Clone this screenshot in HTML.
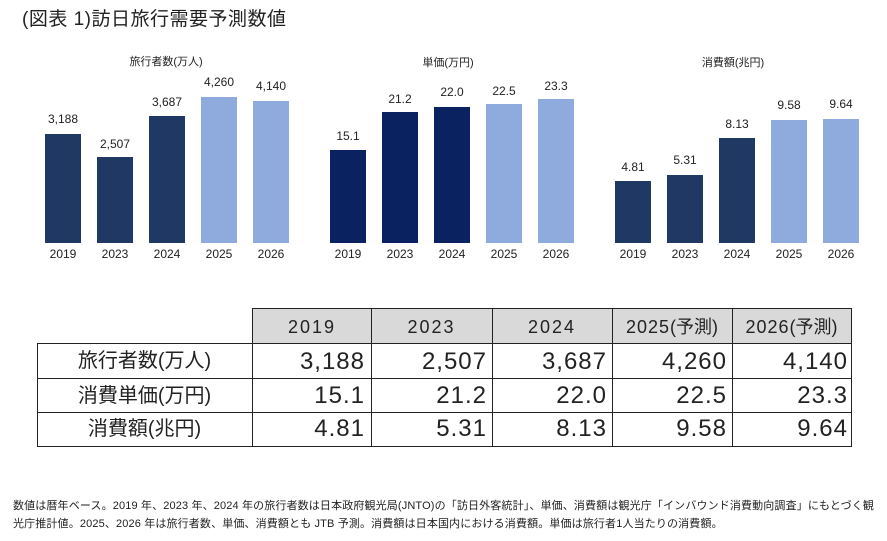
<!DOCTYPE html>
<html><head><meta charset="utf-8">
<style>
html,body{margin:0;padding:0;background:#fff;}
body{width:887px;height:541px;position:relative;overflow:hidden;font-family:"Liberation Sans","Noto Sans CJK JP",sans-serif;color:#222;}
.title{position:absolute;left:22px;top:6px;font-size:19px;letter-spacing:0.5px;white-space:nowrap;line-height:28px;color:#222;}
svg{position:absolute;left:0;top:0;}
.hl{position:absolute;height:1px;background:#222;}
.vl{position:absolute;width:1px;background:#222;}
.hdr{position:absolute;top:309px;height:34px;background:#d9d9d9;}
.cell{position:absolute;white-space:nowrap;line-height:34px;height:34px;}
.h{font-size:18px;letter-spacing:2px;text-align:center;}
.h .p{letter-spacing:0;}
.lab{font-size:20px;text-align:center;left:37px;width:215px;}
.num{font-size:24px;letter-spacing:1px;text-align:right;}
.note{position:absolute;left:13px;font-size:11px;white-space:nowrap;line-height:14px;color:#222;letter-spacing:0.14px;}
</style></head><body>
<div class="title">(図表 1)訪日旅行需要予測数値</div>

<svg width="887" height="300" viewBox="0 0 887 300" font-family="Liberation Sans, Noto Sans CJK JP, sans-serif">
  <!-- chart 1 -->
  <text x="166" y="65" font-size="11" text-anchor="middle" fill="#222">旅行者数(万人)</text>
  <rect x="45" y="134" width="36" height="109" fill="#203864"/>
  <rect x="97" y="157" width="36" height="86" fill="#203864"/>
  <rect x="149" y="116" width="36" height="127" fill="#203864"/>
  <rect x="201" y="97" width="36" height="146" fill="#8faadc"/>
  <rect x="253" y="101" width="36" height="142" fill="#8faadc"/>
  <g font-size="12" text-anchor="middle" fill="#222">
    <text x="63" y="123">3,188</text>
    <text x="115" y="148">2,507</text>
    <text x="167" y="106">3,687</text>
    <text x="219" y="86">4,260</text>
    <text x="271" y="90">4,140</text>
    <text x="63" y="258">2019</text>
    <text x="115" y="258">2023</text>
    <text x="167" y="258">2024</text>
    <text x="219" y="258">2025</text>
    <text x="271" y="258">2026</text>
  </g>
  <!-- chart 2 -->
  <text x="448" y="66" font-size="11" text-anchor="middle" fill="#222">単価(万円)</text>
  <rect x="330" y="150" width="36" height="93" fill="#0a2260"/>
  <rect x="382" y="112" width="36" height="131" fill="#0a2260"/>
  <rect x="434" y="107" width="36" height="136" fill="#0a2260"/>
  <rect x="486" y="104" width="36" height="139" fill="#8faadc"/>
  <rect x="538" y="99" width="36" height="144" fill="#8faadc"/>
  <g font-size="12" text-anchor="middle" fill="#222">
    <text x="348" y="140">15.1</text>
    <text x="400" y="103">21.2</text>
    <text x="452" y="96">22.0</text>
    <text x="504" y="95">22.5</text>
    <text x="556" y="90">23.3</text>
    <text x="348" y="258">2019</text>
    <text x="400" y="258">2023</text>
    <text x="452" y="258">2024</text>
    <text x="504" y="258">2025</text>
    <text x="556" y="258">2026</text>
  </g>
  <!-- chart 3 -->
  <text x="733" y="66" font-size="11" text-anchor="middle" fill="#222">消費額(兆円)</text>
  <rect x="615" y="181" width="36" height="62" fill="#203864"/>
  <rect x="667" y="175" width="36" height="68" fill="#203864"/>
  <rect x="719" y="138" width="36" height="105" fill="#203864"/>
  <rect x="771" y="120" width="36" height="123" fill="#8faadc"/>
  <rect x="823" y="119" width="36" height="124" fill="#8faadc"/>
  <g font-size="12" text-anchor="middle" fill="#222">
    <text x="633" y="171">4.81</text>
    <text x="685" y="164">5.31</text>
    <text x="737" y="128">8.13</text>
    <text x="789" y="109">9.58</text>
    <text x="841" y="108">9.64</text>
    <text x="633" y="258">2019</text>
    <text x="685" y="258">2023</text>
    <text x="737" y="258">2024</text>
    <text x="789" y="258">2025</text>
    <text x="841" y="258">2026</text>
  </g>
</svg>

<!-- table -->
<div class="hdr" style="left:252px;width:599px;"></div>
<div class="hl" style="left:252px;top:308px;width:600px;"></div>
<div class="hl" style="left:37px;top:343px;width:815px;"></div>
<div class="hl" style="left:37px;top:378px;width:815px;"></div>
<div class="hl" style="left:37px;top:412px;width:815px;"></div>
<div class="hl" style="left:37px;top:446px;width:815px;"></div>
<div class="vl" style="left:37px;top:343px;height:104px;"></div>
<div class="vl" style="left:252px;top:308px;height:139px;"></div>
<div class="vl" style="left:371px;top:308px;height:139px;"></div>
<div class="vl" style="left:492px;top:308px;height:139px;"></div>
<div class="vl" style="left:612px;top:308px;height:139px;"></div>
<div class="vl" style="left:732px;top:308px;height:139px;"></div>
<div class="vl" style="left:851px;top:308px;height:139px;"></div>

<div class="cell h" style="left:252px;width:120px;top:310px;">2019</div>
<div class="cell h" style="left:371px;width:121px;top:310px;">2023</div>
<div class="cell h" style="left:492px;width:120px;top:310px;">2024</div>
<div class="cell h" style="left:612px;width:120px;top:310px;letter-spacing:1px;">2025<span class="p">(予測)</span></div>
<div class="cell h" style="left:732px;width:119px;top:310px;letter-spacing:1px;">2026<span class="p">(予測)</span></div>

<div class="cell lab" style="top:344px;">旅行者数(万人)</div>
<div class="cell lab" style="top:379px;">消費単価(万円)</div>
<div class="cell lab" style="top:412px;">消費額(兆円)</div>

<div class="cell num" style="left:252px;width:113px;top:345px;">3,188</div>
<div class="cell num" style="left:371px;width:116px;top:345px;">2,507</div>
<div class="cell num" style="left:492px;width:115px;top:345px;">3,687</div>
<div class="cell num" style="left:612px;width:115px;top:345px;">4,260</div>
<div class="cell num" style="left:732px;width:116px;top:345px;">4,140</div>

<div class="cell num" style="left:252px;width:113px;top:379px;">15.1</div>
<div class="cell num" style="left:371px;width:116px;top:379px;">21.2</div>
<div class="cell num" style="left:492px;width:115px;top:379px;">22.0</div>
<div class="cell num" style="left:612px;width:115px;top:379px;">22.5</div>
<div class="cell num" style="left:732px;width:116px;top:379px;">23.3</div>

<div class="cell num" style="left:252px;width:113px;top:412px;">4.81</div>
<div class="cell num" style="left:371px;width:116px;top:412px;">5.31</div>
<div class="cell num" style="left:492px;width:115px;top:412px;">8.13</div>
<div class="cell num" style="left:612px;width:115px;top:412px;">9.58</div>
<div class="cell num" style="left:732px;width:116px;top:412px;">9.64</div>

<div class="note" style="top:499px;">数値は暦年ベース。2019 年、2023 年、2024 年の旅行者数は日本政府観光局(JNTO)の「訪日外客統計」、単価、消費額は観光庁「インバウンド消費動向調査」にもとづく観</div>
<div class="note" style="top:517px;">光庁推計値。2025、2026 年は旅行者数、単価、消費額とも JTB 予測。消費額は日本国内における消費額。単価は旅行者1人当たりの消費額。</div>
</body></html>
